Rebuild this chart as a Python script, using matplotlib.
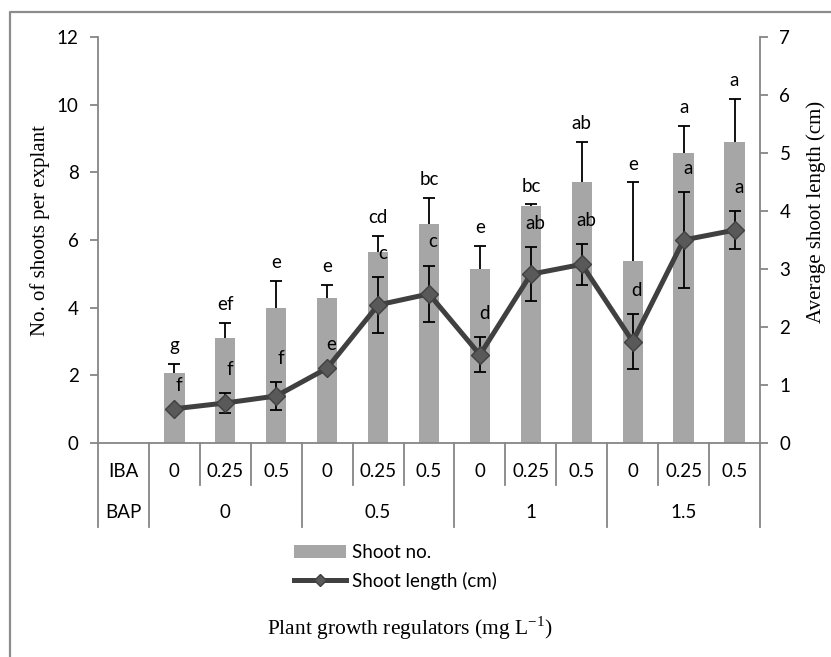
import matplotlib
matplotlib.use('Agg')
import matplotlib.pyplot as plt
import matplotlib.transforms as mtransforms
from matplotlib.lines import Line2D
from matplotlib.patches import Patch
import numpy as np

# data
iba_levels = ['0', '0.25', '0.5', '0', '0.25', '0.5', '0', '0.25', '0.5', '0', '0.25', '0.5']
bap_levels = ['0', '0.5', '1', '1.5']
shoot_no = [2.08, 3.09, 3.99, 4.29, 5.65, 6.46, 5.14, 7.01, 7.72, 5.39, 8.58, 8.91]
shoot_no_err = [0.26, 0.46, 0.80, 0.38, 0.48, 0.79, 0.69, 0.05, 1.19, 2.31, 0.80, 1.27]
shoot_len = [0.59, 0.69, 0.81, 1.29, 2.38, 2.57, 1.52, 2.91, 3.08, 1.75, 3.50, 3.67]
shoot_len_err = [0.0, 0.17, 0.24, 0.0, 0.48, 0.49, 0.30, 0.47, 0.35, 0.47, 0.83, 0.33]
bar_letters = ['g', 'ef', 'e', 'e', 'cd', 'bc', 'e', 'bc', 'ab', 'e', 'a', 'a']
len_letters = ['f', 'f', 'f', 'e', 'c', 'c', 'd', 'ab', 'ab', 'd', 'a', 'a']

sans = 'Lato'
serif = 'Liberation Serif'
fs = 13.5
grey = '#868686'
plt.rcParams['font.family'] = sans
plt.rcParams['mathtext.fontset'] = 'custom'
plt.rcParams['mathtext.rm'] = serif

W, H = 831, 657
fig = plt.figure(figsize=(W / 100, H / 100), dpi=100)
ax = fig.add_axes([98 / W, 1 - 443 / H, 662 / W, 406 / H])
ax2 = ax.twinx()

n = len(shoot_no)
x = np.arange(1, n + 1)

# 柱状图 + 上误差
ax.bar(x, shoot_no, width=0.4, color='#A6A6A6', zorder=2)
eb = ax.errorbar(x, shoot_no, yerr=[np.zeros(n), shoot_no_err], fmt='none',
                 ecolor='black', elinewidth=1.3, capsize=4.5, capthick=1.3, zorder=2.5)
eb[1][0].set_visible(False)

# 折线 + 误差
ax2.errorbar(x, shoot_len, yerr=shoot_len_err, fmt='none', ecolor='black',
             elinewidth=1.3, capsize=4.5, capthick=1.3, zorder=3)
ax2.plot(x, shoot_len, color='#404040', lw=3.6, marker='D', ms=9,
         mfc='#595959', mec='#404040', mew=1, zorder=4)

# 字母标注
for xi, v, e, t in zip(x, shoot_no, shoot_no_err, bar_letters):
    ax.annotate(t, (xi, v + e), xytext=(0, 13), textcoords='offset points',
                ha='center', va='center', fontsize=fs, zorder=5)
for xi, v, e, t in zip(x, shoot_len, shoot_len_err, len_letters):
    ax2.annotate(t, (xi, v + e), xytext=(3, 17), textcoords='offset points',
                 ha='center', va='center', fontsize=fs, zorder=5)

# 坐标轴
ax.set_xlim(-0.5, n + 0.5)
ax.set_ylim(0, 12)
ax.set_yticks(np.arange(0, 13, 2))
ax2.set_ylim(0, 7)
ax2.set_yticks(np.arange(0, 8, 1))
ax.set_xticks([])
for a in (ax, ax2):
    for s in a.spines.values():
        s.set_color(grey)
        s.set_linewidth(1.3)
    a.spines['top'].set_visible(False)
    a.set_facecolor('none')
ax.spines['right'].set_visible(False)
ax2.spines['left'].set_visible(False)
ax2.spines['bottom'].set_visible(False)
ax.tick_params(axis='y', direction='out', length=6, width=1.3, color=grey,
               labelsize=fs, pad=8)
ax2.tick_params(axis='y', direction='out', length=6, width=1.3, color=grey,
                labelsize=fs, pad=8)

# 类别表格
trans = mtransforms.blended_transform_factory(ax.transData, ax.transAxes)
y_iba, y_bap = -0.071, -0.170
short_end, long_end = -0.103, -0.207
for k in range(n + 2):
    xb = k - 0.5
    long_line = (k <= 1) or ((k - 1) % 3 == 0)
    ax.plot([xb, xb], [0, long_end if long_line else short_end], color=grey,
            lw=1.3, transform=trans, clip_on=False)
ax.text(0, y_iba, 'IBA', transform=trans, ha='center', va='center', fontsize=fs)
ax.text(0, y_bap, 'BAP', transform=trans, ha='center', va='center', fontsize=fs)
for xi, t in zip(x, iba_levels):
    ax.text(xi, y_iba, t, transform=trans, ha='center', va='center', fontsize=fs)
for g, t in enumerate(bap_levels):
    ax.text(3 * g + 2, y_bap, t, transform=trans, ha='center', va='center', fontsize=fs)

# 轴标题
fig.text(40 / W, 1 - 230 / H, 'No. of shoots per explant', rotation=90,
         ha='center', va='center', family=serif, fontsize=15)
fig.text(816 / W, 1 - 212 / H, 'Average shoot length (cm)', rotation=90,
         ha='center', va='center', family=serif, fontsize=15)
fig.text(410 / W, 1 - 628 / H, r'Plant growth regulators (mg L$^{\mathregular{-1}}$)',
         ha='center', va='center', family=serif, fontsize=15.5)

# 图例
handles = [Patch(facecolor='#A6A6A6', edgecolor='none'),
           Line2D([], [], color='#404040', lw=3.6, marker='D', ms=6,
                  mfc='#595959', mec='#404040')]
fig.legend(handles, ['Shoot no.', 'Shoot length (cm)'], loc='center',
           bbox_to_anchor=(395 / W, 1 - 567 / H), frameon=False, fontsize=fs,
           handlelength=2.8, handletextpad=0.3, labelspacing=0.55, handleheight=0.7)

# 外框
fig.add_artist(Line2D([10 / W, 10 / W, 1], [0, 1 - 12 / H, 1 - 12 / H],
                      color='#8c8c8c', lw=1.6, transform=fig.transFigure))

fig.savefig('out.png', dpi=100)
